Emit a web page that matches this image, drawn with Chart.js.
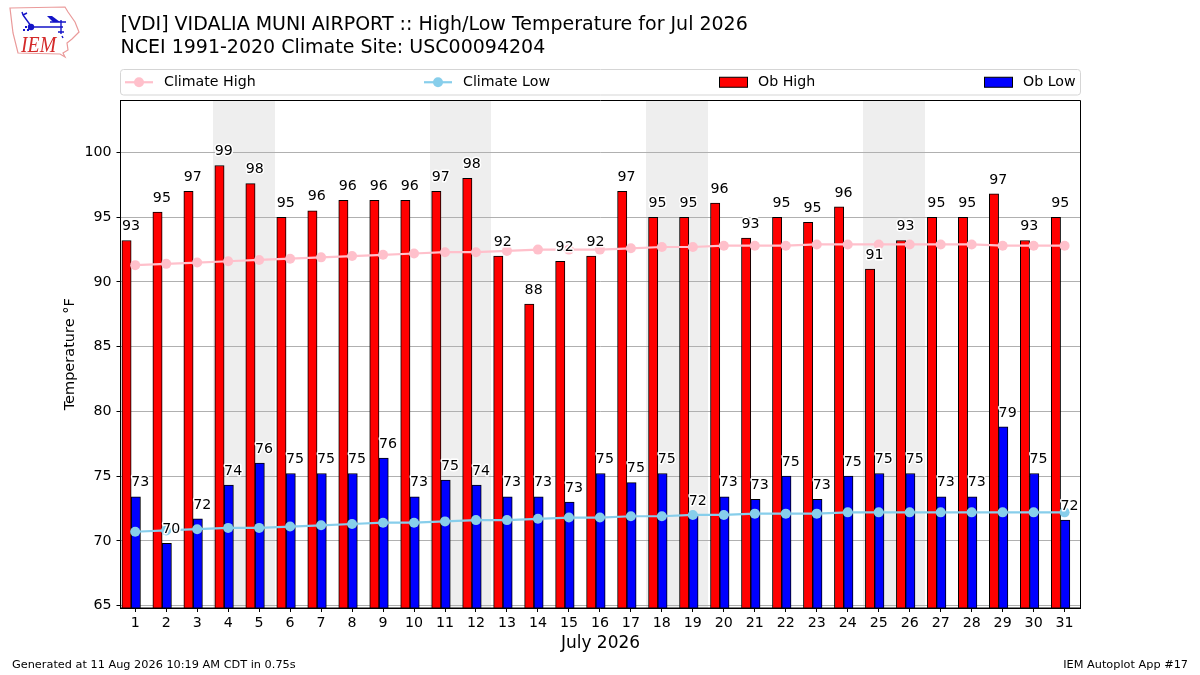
<!DOCTYPE html>
<html>
<head>
<meta charset="utf-8">
<title>VDI High/Low Temperature</title>
<script src="https://cdn.jsdelivr.net/npm/chart.js@4/dist/chart.umd.min.js"></script>
<style>
  html, body { margin: 0; padding: 0; background: #fff; }
  canvas { display: block; }
</style>
</head>
<body>
<canvas id="chart" width="1200" height="675"></canvas>
<script>
const days = [1,2,3,4,5,6,7,8,9,10,11,12,13,14,15,16,17,18,19,20,21,22,23,24,25,26,27,28,29,30,31];
const obHigh = [93.2,95.4,97,99,97.6,95,95.5,96.3,96.3,96.3,97,98,92,88.3,91.6,92,97,95,95,96.1,93.4,95,94.6,95.8,91,93.2,95,95,96.8,93.2,95];
const obLow = [73.4,69.8,71.7,74.3,76,75.2,75.2,75.2,76.4,73.4,74.7,74.3,73.4,73.4,73,75.2,74.5,75.2,72,73.4,73.2,75,73.2,75,75.2,75.2,73.4,73.4,78.8,75.2,71.6];
const climateHigh = [91.3,91.4,91.5,91.6,91.7,91.8,91.9,92,92.1,92.2,92.3,92.3,92.4,92.5,92.5,92.5,92.6,92.7,92.7,92.8,92.8,92.8,92.9,92.9,92.9,92.9,92.9,92.9,92.8,92.8,92.8];
const climateLow = [70.7,70.8,70.9,71,71,71.1,71.2,71.3,71.4,71.4,71.5,71.6,71.6,71.7,71.8,71.8,71.9,71.9,72,72,72.1,72.1,72.1,72.2,72.2,72.2,72.2,72.2,72.2,72.2,72.2];
const weekends = [[4,5],[11,12],[18,19],[25,26]];
const titleLines = ['[VDI] VIDALIA MUNI AIRPORT :: High/Low Temperature for Jul 2026', 'NCEI 1991-2020 Climate Site: USC00094204'];

const FONT = '"DejaVu Sans", sans-serif';
const BAR_W = 9.3;
const HIGH_SHIFT = -0.28, LOW_SHIFT = 0.02;

// grey bands behind the grid for the weekends
const weekendBands = {
  id: 'weekendBands',
  beforeDraw(chart) {
    const { ctx, chartArea, scales } = chart;
    ctx.save();
    ctx.fillStyle = '#eeeeee';
    weekends.forEach(w => {
      const x0 = Math.round(scales.x.getPixelForValue(w[0] - 0.5));
      const x1 = Math.round(scales.x.getPixelForValue(w[1] + 0.5));
      ctx.fillRect(x0, chartArea.top, x1 - x0, chartArea.bottom - chartArea.top);
    });
    ctx.restore();
  }
};

// rounded value over each bar, left aligned on the bar, with a white halo
const barLabels = {
  id: 'barLabels',
  afterDatasetsDraw(chart) {
    const { ctx, scales } = chart;
    ctx.save();
    ctx.font = '14.2px ' + FONT;
    ctx.textAlign = 'left';
    ctx.textBaseline = 'middle';
    ctx.lineJoin = 'round';
    const put = (values, shift) => values.forEach((v, i) => {
      const x = scales.x.getPixelForValue(days[i] + shift) - BAR_W / 2;
      const y = scales.y.getPixelForValue(v) - 14;
      ctx.lineWidth = 3;
      ctx.strokeStyle = '#fff';
      ctx.strokeText(String(Math.round(v)), x, y);
      ctx.fillStyle = '#000';
      ctx.fillText(String(Math.round(v)), x, y);
    });
    put(obHigh, HIGH_SHIFT);
    put(obLow, LOW_SHIFT);
    // frame on all four sides
    const a = chart.chartArea;
    ctx.strokeStyle = '#000';
    ctx.lineWidth = 1;
    ctx.strokeRect(a.left, a.top, a.right - a.left, a.bottom - a.top);
    ctx.restore();
  }
};

// legend stretched over the axes width, like mode="expand"
const wideLegend = {
  id: 'wideLegend',
  afterDraw(chart) {
    const { ctx, chartArea } = chart;
    const top = 69.5, h = 25.5;
    ctx.save();
    ctx.strokeStyle = '#d5d5d5';
    ctx.lineWidth = 1;
    ctx.beginPath();
    ctx.roundRect(chartArea.left, top, chartArea.right - chartArea.left, h, 3);
    ctx.stroke();
    ctx.font = '14.2px ' + FONT;
    ctx.textBaseline = 'middle';
    ctx.textAlign = 'left';
    const startX = [125, 424, 719, 984];
    chart.data.datasets.forEach((ds, i) => {
      const x = startX[i], y = top + h / 2;
      if (ds.type === 'line') {
        ctx.strokeStyle = ds.borderColor;
        ctx.lineWidth = 2.2;
        ctx.beginPath();
        ctx.moveTo(x, y);
        ctx.lineTo(x + 28, y);
        ctx.stroke();
        ctx.fillStyle = ds.borderColor;
        ctx.beginPath();
        ctx.arc(x + 14, y, 5, 0, Math.PI * 2);
        ctx.fill();
      } else {
        ctx.fillStyle = ds.backgroundColor;
        ctx.fillRect(x + 0.5, y - 5, 28, 10);
        ctx.strokeStyle = '#000';
        ctx.lineWidth = 1;
        ctx.strokeRect(x + 0.5, y - 5, 28, 10);
      }
      ctx.fillStyle = '#000';
      ctx.fillText(ds.label, x + 39, y);
    });
    ctx.restore();
  }
};

// footer notes and the small IEM mark in the corner
const pageDecor = {
  id: 'pageDecor',
  afterDraw(chart) {
    const { ctx } = chart;
    ctx.save();
    ctx.fillStyle = '#000';
    ctx.font = '11.3px ' + FONT;
    ctx.textBaseline = 'middle';
    ctx.textAlign = 'left';
    ctx.fillText('Generated at 11 Aug 2026 10:19 AM CDT in 0.75s', 12, 665);
    ctx.textAlign = 'right';
    ctx.fillText('IEM Autoplot App #17', 1188, 665);

    ctx.strokeStyle = '#ea9a9a';
    ctx.lineWidth = 1.2;
    ctx.beginPath();
    [[10,8],[65,7],[68,12],[75,22],[79,32],[72,39],[67,43],[68,50],[63,53],[65,57],[60,54],[18,53],[13,33]]
      .forEach((p, i) => i ? ctx.lineTo(p[0], p[1]) : ctx.moveTo(p[0], p[1]));
    ctx.closePath();
    ctx.stroke();

    ctx.strokeStyle = ctx.fillStyle = '#1414c8';
    ctx.lineWidth = 1.4;
    ctx.beginPath();
    ctx.moveTo(31, 27); ctx.lineTo(63, 27);
    ctx.moveTo(31, 26); ctx.lineTo(23, 15);
    ctx.moveTo(23, 15); ctx.lineTo(22, 12);
    ctx.moveTo(23, 15); ctx.lineTo(27, 13);
    ctx.moveTo(50, 22); ctx.lineTo(66, 22);
    ctx.moveTo(61, 20); ctx.lineTo(61, 34);
    ctx.moveTo(58, 32); ctx.lineTo(64, 32);
    ctx.moveTo(62, 36); ctx.lineTo(63, 38);
    ctx.stroke();
    ctx.beginPath();
    ctx.arc(31, 27, 3.2, 0, Math.PI * 2);
    ctx.fill();
    ctx.beginPath();
    ctx.moveTo(47, 16); ctx.lineTo(52, 16); ctx.lineTo(60, 22); ctx.lineTo(53, 22); ctx.closePath();
    ctx.fill();
    ctx.fillRect(23, 29, 2, 2);
    ctx.fillRect(25, 26, 2, 2);
    ctx.fillRect(27, 29, 2, 2);

    ctx.fillStyle = '#d42a2a';
    ctx.font = 'italic 23px "Liberation Serif", serif';
    ctx.textAlign = 'left';
    ctx.textBaseline = 'alphabetic';
    ctx.setTransform(0.86, 0, 0, 1, 21, 52);
    ctx.fillText('IEM', 0, 0);
    ctx.restore();
  }
};

new Chart(document.getElementById('chart').getContext('2d'), {
  type: 'bar',
  data: {
    datasets: [
      {
        type: 'line', label: 'Climate High', order: 1,
        data: days.map((d, i) => ({ x: d, y: climateHigh[i] })),
        borderColor: 'pink', backgroundColor: 'pink', borderWidth: 2.2,
        pointRadius: 5, pointBackgroundColor: 'pink', pointBorderWidth: 0, tension: 0
      },
      {
        type: 'line', label: 'Climate Low', order: 1,
        data: days.map((d, i) => ({ x: d, y: climateLow[i] })),
        borderColor: 'skyblue', backgroundColor: 'skyblue', borderWidth: 2.2,
        pointRadius: 5, pointBackgroundColor: 'skyblue', pointBorderWidth: 0, tension: 0
      },
      {
        type: 'bar', label: 'Ob High', order: 2, grouped: false,
        data: days.map((d, i) => ({ x: d + HIGH_SHIFT, y: obHigh[i] })),
        backgroundColor: '#ff0000', borderColor: '#000', borderWidth: 1,
        borderSkipped: false, barThickness: BAR_W
      },
      {
        type: 'bar', label: 'Ob Low', order: 2, grouped: false,
        data: days.map((d, i) => ({ x: d + LOW_SHIFT, y: obLow[i] })),
        backgroundColor: '#0000ff', borderColor: '#000', borderWidth: 1,
        borderSkipped: false, barThickness: BAR_W
      }
    ]
  },
  options: {
    responsive: false,
    animation: false,
    devicePixelRatio: 1,
    layout: { padding: { left: 0, right: 119.5, top: 0, bottom: 0 } },
    plugins: {
      legend: { display: false },
      tooltip: { enabled: false },
      title: {
        display: true,
        text: titleLines,
        align: 'start',
        fullSize: false,
        color: '#000',
        font: { family: FONT, size: 19, weight: 'normal', lineHeight: 23 / 19 },
        padding: { top: 14, bottom: 40.5 }
      }
    },
    scales: {
      x: {
        type: 'linear',
        offset: false,
        min: 0.5255,
        max: 31.513,
        afterFit(scale) { scale.height = 67; },
        ticks: {
          stepSize: 1,
          includeBounds: false,
          autoSkip: false,
          maxRotation: 0,
          color: '#000',
          padding: 3,
          font: { family: FONT, size: 14.2 }
        },
        grid: { offset: false, drawOnChartArea: false, tickLength: 4, tickColor: '#000' },
        border: { color: '#000' },
        title: {
          display: true,
          text: 'July 2026',
          color: '#000',
          font: { family: FONT, size: 17 },
          padding: { top: 0, bottom: 21 }
        }
      },
      y: {
        min: 64.81,
        max: 104.02,
        afterFit(scale) { scale.width = 120.5; },
        ticks: {
          stepSize: 5,
          includeBounds: false,
          color: '#000',
          padding: 5,
          font: { family: FONT, size: 14.2 }
        },
        grid: { color: '#b0b0b0', tickLength: 4, tickColor: '#000' },
        border: { color: '#000' },
        title: {
          display: true,
          text: 'Temperature °F',
          color: '#000',
          font: { family: FONT, size: 14.5 },
          padding: { top: 62, bottom: 0 }
        }
      }
    }
  },
  plugins: [weekendBands, barLabels, wideLegend, pageDecor]
});
</script>
</body>
</html>
